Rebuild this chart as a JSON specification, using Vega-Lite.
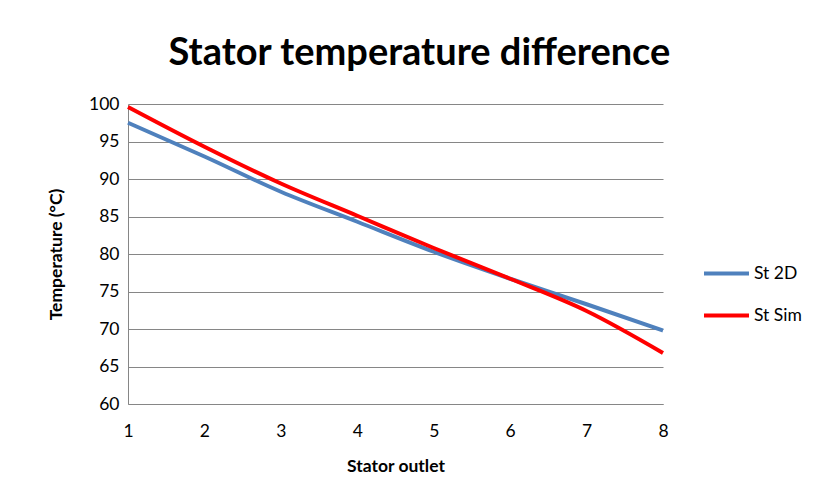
{
  "$schema": "https://vega.github.io/schema/vega-lite/v6.json",
  "autosize": "none",
  "width": 535,
  "height": 300,
  "padding": {"left": 128, "top": 104, "right": 156, "bottom": 94},
  "background": "white",
  "title": {
    "text": "Stator temperature difference",
    "font": "Lato",
    "fontSize": 38,
    "fontWeight": "bold",
    "color": "#000000",
    "anchor": "middle",
    "dx": 24,
    "offset": 22
  },
  "data": {
    "values": [
      {"outlet": 1, "series": "St 2D", "temp": 97.5},
      {"outlet": 2, "series": "St 2D", "temp": 93.0},
      {"outlet": 3, "series": "St 2D", "temp": 88.3},
      {"outlet": 4, "series": "St 2D", "temp": 84.3},
      {"outlet": 5, "series": "St 2D", "temp": 80.3},
      {"outlet": 6, "series": "St 2D", "temp": 76.7},
      {"outlet": 7, "series": "St 2D", "temp": 73.3},
      {"outlet": 8, "series": "St 2D", "temp": 69.8},
      {"outlet": 1, "series": "St Sim", "temp": 99.6},
      {"outlet": 2, "series": "St Sim", "temp": 94.3},
      {"outlet": 3, "series": "St Sim", "temp": 89.4},
      {"outlet": 4, "series": "St Sim", "temp": 85.1},
      {"outlet": 5, "series": "St Sim", "temp": 80.8},
      {"outlet": 6, "series": "St Sim", "temp": 76.7},
      {"outlet": 7, "series": "St Sim", "temp": 72.4},
      {"outlet": 8, "series": "St Sim", "temp": 66.8}
    ]
  },
  "mark": {"type": "line", "interpolate": "monotone", "strokeWidth": 4},
  "encoding": {
    "x": {
      "field": "outlet",
      "type": "quantitative",
      "scale": {"domain": [1, 8], "nice": false, "zero": false},
      "axis": {
        "title": "Stator outlet",
        "values": [1, 2, 3, 4, 5, 6, 7, 8],
        "grid": false,
        "ticks": false,
        "labelFlush": false,
        "domainColor": "#868686",
        "domainWidth": 1,
        "labelPadding": 18,
        "titlePadding": 18
      }
    },
    "y": {
      "field": "temp",
      "type": "quantitative",
      "scale": {"domain": [60, 100], "nice": false, "zero": false},
      "axis": {
        "title": "Temperature (°C)",
        "values": [60, 65, 70, 75, 80, 85, 90, 95, 100],
        "grid": true,
        "gridColor": "#868686",
        "gridWidth": 1,
        "ticks": false,
        "labelFlush": false,
        "domainColor": "#868686",
        "domainWidth": 1,
        "labelPadding": 9,
        "titlePadding": 23
      }
    },
    "color": {
      "field": "series",
      "type": "nominal",
      "scale": {"domain": ["St 2D", "St Sim"], "range": ["#4F81BD", "#FF0000"]},
      "legend": {
        "title": null,
        "orient": "none",
        "legendX": 574,
        "legendY": 145,
        "symbolType": "stroke",
        "symbolSize": 2025,
        "symbolStrokeWidth": 4,
        "rowPadding": 9,
        "labelOffset": 3,
        "labelFontSize": 17.5,
        "labelFont": "Lato",
        "labelColor": "#000000"
      }
    }
  },
  "config": {
    "view": {"stroke": null},
    "axis": {
      "labelFont": "Lato",
      "labelFontSize": 17.5,
      "labelColor": "#000000",
      "titleFont": "Lato",
      "titleFontSize": 17.5,
      "titleFontWeight": "bold",
      "titleColor": "#000000"
    }
  }
}
